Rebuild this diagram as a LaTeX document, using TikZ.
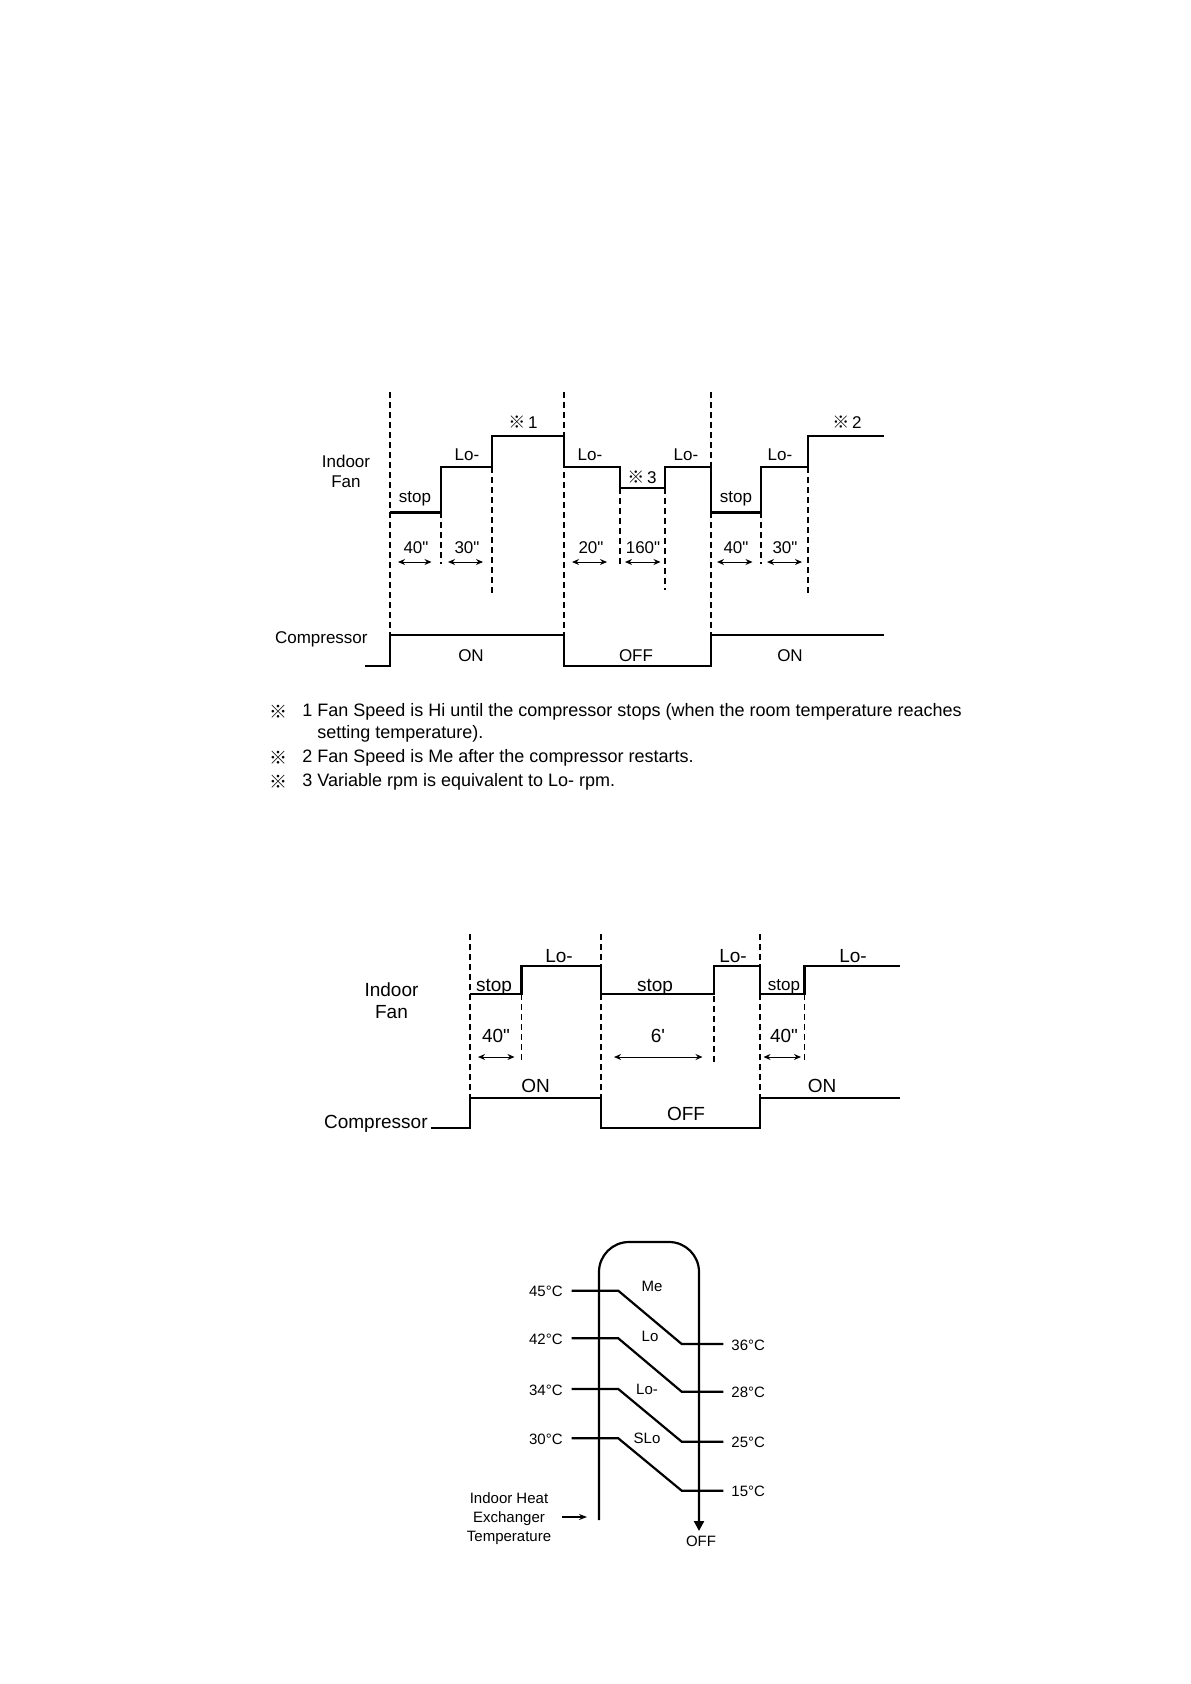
\documentclass[tikz,border=0pt]{standalone}
\usepackage{fontspec}
\setmainfont{Liberation Sans}[Ligatures=TeXOff]
\newfontfamily\cjk{Noto Sans CJK JP}
\usetikzlibrary{arrows.meta}

\begin{document}
\begin{tikzpicture}[x=0.5pt,y=-0.5pt,
  every node/.style={inner sep=1pt},
  lbl/.style={font=\fontsize{8.5}{10}\selectfont},
  lblb/.style={font=\fontsize{9.5}{11}\selectfont},
  lblc/.style={font=\fontsize{7.5}{9.5}\selectfont,align=center},
  note/.style={font=\fontsize{9}{11}\selectfont,anchor=west},
  sig/.style={line width=1.1pt},
  guide/.style={line width=0.6pt,dash pattern=on 3pt off 2pt},
  span/.style={line width=0.5pt,{Stealth[length=3.5pt,width=3pt]}-{Stealth[length=3.5pt,width=3pt]}}]
\useasboundingbox (0,0) rectangle (1190,1684);

% Timing 1: fan steps while compressor cycles
\foreach \x in {390,564,711} \draw[guide] (\x,392) -- (\x,635);
\foreach \x/\t/\b in {441/512/564,492/467/595,620/488/564,665/488/590,761/512/564,808/467/593}
  \draw[guide] (\x,\t) -- (\x,\b);
\draw[sig] (390,512.5) -- (441,512.5) -- (441,467) -- (492,467) -- (492,436) -- (564,436) -- (564,467) -- (620,467) -- (620,488) -- (665,488) -- (665,467) -- (711,467) -- (711,512.5) -- (761,512.5) -- (761,467) -- (808,467) -- (808,436) -- (884,436);
\draw[sig] (365,666) -- (390,666) -- (390,635) -- (564,635) -- (564,666) -- (711,666) -- (711,635) -- (884,635);
\foreach \a/\b in {398/431.5,448/483,572/607,625/660.5,717/752.5,767/802} \draw[span] (\a,562) -- (\b,562);
\node[lbl,align=center] (fan1) at (346,471) {Indoor\\Fan};
\node[lbl,anchor=east] (comp1) at (370,639) {Compressor};
\node[lbl] (s1a) at (415,499) {stop};
\node[lbl] (l1a) at (467,455) {Lo-};
\node[lbl] (m1a) at (523,422) {{\cjk ※}\,1};
\node[lbl] (l1b) at (590,455) {Lo-};
\node[lbl] (m1c) at (642,477) {{\cjk ※}\,3};
\node[lbl] (l1c) at (686,455) {Lo-};
\node[lbl] (s1b) at (736,499) {stop};
\node[lbl] (l1d) at (780,455) {Lo-};
\node[lbl] (m1b) at (847,422) {{\cjk ※}\,2};
\node[lbl] (t1a) at (416,548) {40"};
\node[lbl] (t1b) at (467,548) {30"};
\node[lbl] (t1c) at (591,548) {20"};
\node[lbl] (t1d) at (643,548) {160"};
\node[lbl] (t1e) at (736,548) {40"};
\node[lbl] (t1f) at (785,548) {30"};
\node[lbl] (on1a) at (471,656) {ON};
\node[lbl] (off1) at (636,656) {OFF};
\node[lbl] (on1b) at (790,656) {ON};

% notes
\node[note] (k1) at (267,712) {\cjk ※};
\node[note] (n1) at (300,712) {1 Fan Speed is Hi until the compressor stops (when the room temperature reaches};
\node[note] (n1b) at (315,733.5) {setting temperature).};
\node[note] (k2) at (267,758) {\cjk ※};
\node[note] (n2) at (300,758) {2 Fan Speed is Me after the compressor restarts.};
\node[note] (k3) at (267,782) {\cjk ※};
\node[note] (n3) at (300,782) {3 Variable rpm is equivalent to Lo- rpm.};

% Timing 2: stop/Lo- cycle
\foreach \x in {470,601,760} \draw[guide] (\x,934) -- (\x,1098);
\foreach \x/\t in {521.5/994,714/966,804.5/994} \draw[guide] (\x,\t) -- (\x,1062);
\draw[sig] (470,994) -- (521.5,994) -- (521.5,966) -- (601,966) -- (601,994) -- (714,994) -- (714,966) -- (760,966) -- (760,994) -- (804.5,994) -- (804.5,966) -- (900,966);
\draw[sig] (431,1128) -- (470,1128) -- (470,1098) -- (601,1098) -- (601,1128) -- (760,1128) -- (760,1098) -- (900,1098);
\foreach \a/\b in {478/514.5,614/702.5,763.5/801} \draw[span] (\a,1057) -- (\b,1057);
\node[lblb,align=center] (fan2) at (391.5,1000.5) {Indoor\\Fan};
\node[lblb,anchor=east] (comp2) at (430,1124) {Compressor};
\node[lblb] (s2a) at (494,987) {stop};
\node[lblb] (l2a) at (559,956) {Lo-};
\node[lblb] (s2b) at (655,987) {stop};
\node[lblb] (l2b) at (733,956) {Lo-};
\node[lbl] (s2c) at (784,987) {stop};
\node[lblb] (l2c) at (853,956) {Lo-};
\node[lblb] (t2a) at (496,1036) {40"};
\node[lblb] (t2b) at (658,1036) {6'};
\node[lblb] (t2c) at (784,1036) {40"};
\node[lblb] (on2a) at (535.5,1085.5) {ON};
\node[lblb] (off2) at (686,1113.5) {OFF};
\node[lblb] (on2b) at (822,1085.5) {ON};

% Heat exchanger temperature bands
\draw[sig,rounded corners=15pt,-{Triangle[length=5pt,width=5pt]}] (599,1520) -- (599,1242) -- (699,1242) -- (699,1531);
\foreach \l/\r in {1290.7/1344,1338.3/1391.7,1389/1441.7,1438.3/1490.7}
  \draw[sig] (571.7,\l) -- (618.3,\l) -- (681.7,\r) -- (723.3,\r);
\node[lblc,anchor=east] (c45) at (565,1291.5) {45°C};
\node[lblc,anchor=east] (c42) at (565,1339) {42°C};
\node[lblc,anchor=east] (c34) at (565,1390) {34°C};
\node[lblc,anchor=east] (c30) at (565,1439) {30°C};
\node[lblc,anchor=west] (c36) at (729,1345) {36°C};
\node[lblc,anchor=west] (c28) at (729,1392.5) {28°C};
\node[lblc,anchor=west] (c25) at (729,1442.5) {25°C};
\node[lblc,anchor=west] (c15) at (729,1491.5) {15°C};
\node[lblc] (me) at (652,1286) {Me};
\node[lblc] (lo) at (650,1336.5) {Lo};
\node[lblc] (lom) at (647,1389) {Lo-};
\node[lblc] (slo) at (647,1438) {SLo};
\node[lblc] (off3) at (701,1541) {OFF};
\node[lblc] (hx) at (509,1519) {Indoor Heat\\Exchanger\\Temperature};
\coordinate (hxtip) at (587,1517);
\draw[line width=0.6pt,-{Stealth[length=4pt,width=3pt]}] (562,1517) -- (hxtip);
\end{tikzpicture}
\end{document}
